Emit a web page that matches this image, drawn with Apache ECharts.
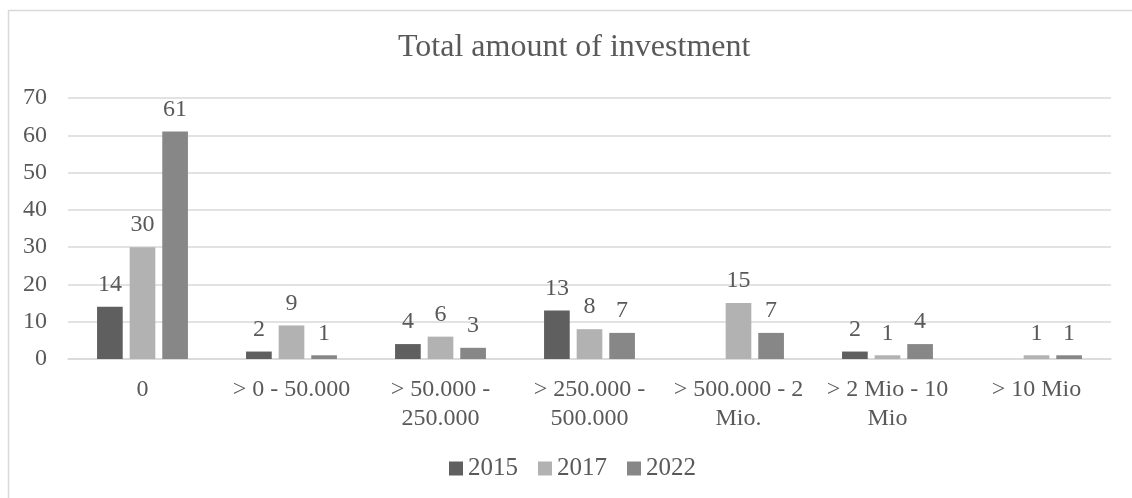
<!DOCTYPE html>
<html>
<head>
<meta charset="utf-8">
<script src="https://cdn.jsdelivr.net/npm/echarts@6/dist/echarts.min.js"></script>
<style>
  html, body { margin: 0; padding: 0; background: #fff; }
  #chart { width: 1132px; height: 498px; }
</style>
</head>
<body>
<div id="chart"></div>
<script>
// Investment size bands (line breaks as wrapped under the axis)
const categories = [
  '0',
  '> 0 - 50.000',
  '> 50.000 -\n250.000',
  '> 250.000 -\n500.000',
  '> 500.000 - 2\nMio.',
  '> 2 Mio - 10\nMio',
  '> 10 Mio'
];
const values2015 = [14, 2, 4, 13, null, 2, null];
const values2017 = [30, 9, 6, 8, 15, 1, 1];
const values2022 = [61, 1, 3, 7, 7, 4, 1];
const yTicks = { min: 0, max: 70, interval: 10 };

const FONT = '"Liberation Serif", "Times New Roman", serif';
const TEXT = '#595959';
const GRID_LINE = '#d9d9d9';

function barSeries(name, data, color) {
  return {
    name: name,
    type: 'bar',
    data: data,
    barGap: '27%',
    barCategoryGap: '39%',
    itemStyle: { color: color },
    label: {
      show: true,
      position: 'top',
      distance: 10,
      color: TEXT,
      fontFamily: FONT,
      fontSize: 24
    }
  };
}

const chart = echarts.init(document.getElementById('chart'), null, { renderer: 'canvas' });
chart.setOption({
  backgroundColor: '#ffffff',
  animation: false,
  textStyle: { fontFamily: FONT, color: TEXT },
  graphic: [{
    type: 'rect',
    left: 6, top: 8,
    shape: { width: 1140, height: 500 },
    style: { fill: 'none', stroke: GRID_LINE, lineWidth: 1.5 },
    silent: true,
    z: -10
  }],
  title: {
    text: 'Total amount of investment',
    left: 393,
    top: 27,
    textStyle: { fontFamily: FONT, fontSize: 32, fontWeight: 'normal', color: TEXT }
  },
  grid: { left: 68, right: 21, top: 98, bottom: 139 },
  legend: {
    bottom: 12,
    left: 444,
    icon: 'rect',
    itemWidth: 14,
    itemHeight: 14,
    itemGap: 20,
    textStyle: { fontFamily: FONT, fontSize: 25, color: TEXT }
  },
  xAxis: {
    type: 'category',
    data: categories,
    axisLine: { show: true, lineStyle: { color: GRID_LINE, width: 1.5 } },
    axisTick: { show: false },
    axisLabel: {
      interval: 0,
      margin: 16,
      color: TEXT,
      fontFamily: FONT,
      fontSize: 24,
      lineHeight: 29
    }
  },
  yAxis: {
    type: 'value',
    min: yTicks.min,
    max: yTicks.max,
    interval: yTicks.interval,
    axisLine: { show: false },
    axisTick: { show: false },
    splitLine: { lineStyle: { color: GRID_LINE, width: 1.5 } },
    axisLabel: { margin: 21, color: TEXT, fontFamily: FONT, fontSize: 24 }
  },
  series: [
    barSeries('2015', values2015, '#5f5f5f'),
    barSeries('2017', values2017, '#b2b2b2'),
    barSeries('2022', values2022, '#878787')
  ]
});
</script>
</body>
</html>
